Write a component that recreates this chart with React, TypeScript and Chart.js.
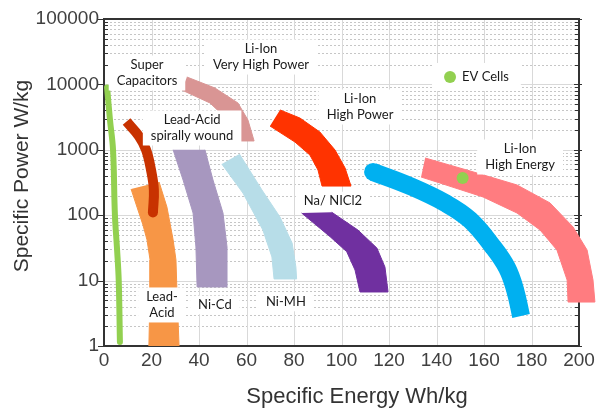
import React, { useEffect, useRef } from "react";
import { Chart, registerables } from "chart.js";

Chart.register(...registerables);

// ---- axes ----
const energyTicks = [0, 20, 40, 60, 80, 100, 120, 140, 160, 180, 200];
const powerTicks = [1, 10, 100, 1000, 10000, 100000];

// ---- series (Specific Energy Wh/kg, Specific Power W/kg) ----
const superCapEnergy = [1.3, 2.5, 3.8, 4.6, 5.5, 6.2, 6.7];
const superCapPower = [9000, 2900, 1000, 100, 30, 10, 1.15];

const spiralEnergy = [9.5, 14.7, 17.7, 19.8, 21, 20.6];
const spiralPower = [2700, 1620, 1000, 490, 243, 110];

const leadAcidEnergy = [11.4, 13.9, 16.4, 18.1, 19.4, 19.4, 18.9, 31.6, 30.7, 30.3, 29.1, 26.5, 23.2];
const leadAcidPower = [251, 133, 71, 42, 20.7, 7.2, 1, 1, 7.2, 20.7, 42, 133, 322];

const niCdEnergy = [29.1, 31.2, 33.3, 37.5, 38.7, 39.2, 51.8, 51.8, 50.1, 45.9, 42.5];
const niCdPower = [1000, 586, 345, 108, 32.7, 8.0, 8.0, 32.7, 108, 345, 1000];

const niMhEnergy = [49.6, 58.5, 66.9, 70.7, 71.6, 81.1, 80.8, 79.2, 74.1, 66.5, 57.0];
const niMhPower = [607, 218, 59.4, 23, 10.6, 10.6, 16.1, 37.6, 93.8, 243, 863];

const veryHighPowerEnergy = [34.9, 46.7, 56.4, 60.6, 63.2, 55.6, 52.2, 44.6, 32.8];
const veryHighPowerPower = [12970, 8810, 5200, 2860, 1365, 1365, 2860, 5200, 8200];

const highPowerEnergy = [74.1, 82.5, 90.9, 97.3, 101.5, 104.0, 91.8, 90.1, 86.7, 80.4, 69.9];
const highPowerPower = [4070, 3060, 1870, 990, 527, 279, 279, 491, 832, 1315, 2310];

const naNiClEnergy = [95.9, 106.9, 114.9, 118.3, 119.6, 107.8, 105.7, 102.2, 95.2, 83.2];
const naNiClPower = [111, 59.4, 31.5, 16.1, 6.7, 6.7, 14.5, 27.7, 46.9, 108];

const liIonEnergy = [113.3, 128.8, 143.6, 154.1, 163.8, 169.7, 173.1, 175.6];
const liIonPower = [458, 279, 154, 84.6, 32.7, 15.6, 7.2, 2.88];

const highEnergyEnergy = [135.2, 154.1, 161.3, 173.9, 187.8, 197.5, 203.4, 205.9, 206.7, 195.4, 195.0, 190.7, 183.6, 173.9, 159.6, 141.5, 133.5];
const highEnergyPower = [750, 475, 397, 290, 154, 66, 29.4, 10.2, 4.7, 4.7, 10.2, 29.4, 59.4, 108, 190, 310, 384];

const evCellEnergy = [151];
const evCellPower = [370];

// ---- annotations ----
const noteTexts = [
  ["Super", "Capacitors"],
  ["Li-Ion", "Very High Power"],
  ["Lead-Acid", "spirally wound"],
  ["Li-Ion", "High Power"],
  ["Li-Ion", "High Energy"],
  ["Na/ NICl2"],
  ["Lead-", "Acid"],
  ["Ni-Cd"],
  ["Ni-MH"],
];
const noteEnergy = [18.1, 66.1, 37.1, 107.8, 175.2, 96.4, 24.4, 46.7, 76.6];
const notePower = [14930, 26200, 2155, 4510, 776, 165, 4.24, 4.24, 4.7];

const legendText = "EV Cells";
const legendEnergy = 145.7;
const legendPower = 12970;

const xTitle = "Specific Energy Wh/kg";
const yTitle = "Specific Power W/kg";

const pts = (xs: number[], ys: number[]) => xs.map((x, i) => ({ x, y: ys[i] }));

const band = (label: string, xs: number[], ys: number[], color: string, extra: any = {}) => ({
  label,
  data: pts(xs, ys),
  showLine: true,
  fill: "shape",
  backgroundColor: color,
  borderColor: color,
  borderWidth: 1,
  pointRadius: 0,
  tension: 0,
  ...extra,
});

const NOTE_FONT = '13px Lato, "Open Sans", sans-serif';
const LINE_H = 16.5;

const decorPlugin = {
  id: "decor",
  beforeDraw(chart: any) {
    const { ctx, chartArea: a } = chart;
    const xs = chart.scales.x;
    const ys = chart.scales.y;
    ctx.save();
    ctx.lineWidth = 1;
    // minor dotted grid
    ctx.strokeStyle = "#c6c6c6";
    ctx.setLineDash([2, 2]);
    for (let d = 1; d < 100000; d *= 10) {
      for (let k = 2; k <= 9; k++) {
        const py = Math.round(ys.getPixelForValue(d * k)) + 0.5;
        ctx.beginPath();
        ctx.moveTo(a.left + 2, py);
        ctx.lineTo(a.right - 1, py);
        ctx.stroke();
      }
    }
    ctx.setLineDash([]);
    // major grid
    ctx.strokeStyle = "#d9d9d9";
    energyTicks.slice(1, -1).forEach((v) => {
      const px = Math.round(xs.getPixelForValue(v)) + 0.5;
      ctx.beginPath();
      ctx.moveTo(px, a.top);
      ctx.lineTo(px, a.bottom);
      ctx.stroke();
    });
    powerTicks.slice(1, -1).forEach((v) => {
      const py = Math.round(ys.getPixelForValue(v)) + 0.5;
      ctx.beginPath();
      ctx.moveTo(a.left, py);
      ctx.lineTo(a.right, py);
      ctx.stroke();
    });
    // tick marks
    ctx.strokeStyle = "#333";
    for (let d = 1; d <= 100000; d *= 10) {
      const py = Math.round(ys.getPixelForValue(d)) + 0.5;
      ctx.beginPath();
      ctx.moveTo(a.left - 6, py);
      ctx.lineTo(a.left, py);
      ctx.moveTo(a.right - 5, py);
      ctx.lineTo(a.right + 3, py);
      ctx.stroke();
      if (d < 100000) {
        for (let k = 2; k <= 9; k++) {
          const pm = Math.round(ys.getPixelForValue(d * k)) + 0.5;
          ctx.beginPath();
          ctx.moveTo(a.left, pm);
          ctx.lineTo(a.left + 4, pm);
          ctx.moveTo(a.right - 4, pm);
          ctx.lineTo(a.right, pm);
          ctx.stroke();
        }
      }
    }
    // top & right border
    ctx.lineWidth = 2;
    ctx.beginPath();
    ctx.moveTo(a.left, a.top);
    ctx.lineTo(a.right, a.top);
    ctx.lineTo(a.right, a.bottom);
    ctx.stroke();
    ctx.restore();
  },
  beforeDatasetDraw(chart: any, args: any) {
    const ds = chart.data.datasets[args.index];
    if (!ds.freeFill) return;
    const { ctx } = chart;
    const el = args.meta.dataset;
    ctx.save();
    ctx.fillStyle = ds.backgroundColor;
    ctx.beginPath();
    el.path(ctx);
    ctx.closePath();
    ctx.fill();
    ctx.restore();
  },
  afterDatasetsDraw(chart: any) {
    const { ctx } = chart;
    const xs = chart.scales.x;
    const ys = chart.scales.y;
    ctx.save();
    ctx.font = NOTE_FONT;
    ctx.textAlign = "center";
    ctx.textBaseline = "middle";
    noteTexts.forEach((lines, i) => {
      const cx = xs.getPixelForValue(noteEnergy[i]);
      const cy = ys.getPixelForValue(notePower[i]);
      const w = Math.max(...lines.map((l) => ctx.measureText(l).width)) + 16;
      const h = lines.length * LINE_H + 2;
      ctx.fillStyle = "#ffffff";
      ctx.fillRect(cx - w / 2, cy - h / 2, w, h);
      ctx.fillStyle = "#1a1a1a";
      lines.forEach((l, j) => {
        ctx.fillText(l, cx, cy - ((lines.length - 1) * LINE_H) / 2 + j * LINE_H);
      });
    });
    // EV Cells legend
    const lx = xs.getPixelForValue(legendEnergy);
    const ly = ys.getPixelForValue(legendPower);
    const tw = ctx.measureText(legendText).width;
    ctx.fillStyle = "#ffffff";
    ctx.fillRect(lx - 18, ly - 14, tw + 42, 28);
    ctx.fillStyle = "#92d050";
    ctx.beginPath();
    ctx.arc(lx, ly, 6, 0, Math.PI * 2);
    ctx.fill();
    ctx.fillStyle = "#1a1a1a";
    ctx.textAlign = "left";
    ctx.fillText(legendText, lx + 12, ly);
    // axis titles
    ctx.fillStyle = "#333";
    ctx.font = '22px "Liberation Sans", Arial, sans-serif';
    ctx.textAlign = "center";
    ctx.fillText(xTitle, 357, 397);
    ctx.font = '21px "Liberation Sans", Arial, sans-serif';
    ctx.translate(22, 176);
    ctx.rotate(-Math.PI / 2);
    ctx.fillText(yTitle, 0, 0);
    ctx.restore();
  },
};

export default function App() {
  const ref = useRef<HTMLCanvasElement>(null);
  useEffect(() => {
    if (!ref.current) return;
    const chart = new Chart(ref.current, {
      type: "scatter",
      data: {
        datasets: [
          {
            label: "EV Cells",
            data: pts(evCellEnergy, evCellPower),
            pointRadius: 6,
            pointBackgroundColor: "#92d050",
            pointBorderWidth: 0,
            showLine: false,
          },
          {
            label: "Super Capacitors",
            data: pts(superCapEnergy, superCapPower),
            showLine: true,
            borderColor: "#92d050",
            borderWidth: 6,
            borderCapStyle: "round",
            pointRadius: 0,
            tension: 0.4,
          },
          {
            label: "Lead-Acid spirally wound",
            data: pts(spiralEnergy, spiralPower),
            showLine: true,
            borderColor: "#c83200",
            borderWidth: 10,
            borderCapStyle: "butt",
            pointRadius: (c: any) => (c.dataIndex === spiralEnergy.length - 1 ? 5 : 0),
            pointBackgroundColor: "#c83200",
            pointBorderWidth: 0,
            tension: 0.4,
          },
          {
            label: "Li-Ion",
            data: pts(liIonEnergy, liIonPower),
            showLine: true,
            borderColor: "#00b0f0",
            borderWidth: 18,
            borderCapStyle: "butt",
            pointRadius: (c: any) => (c.dataIndex === 0 ? 9 : 0),
            pointBackgroundColor: "#00b0f0",
            pointBorderWidth: 0,
            tension: 0.4,
          },
          band("Lead-Acid", leadAcidEnergy, leadAcidPower, "#f79646"),
          band("Ni-Cd", niCdEnergy, niCdPower, "#a797bf"),
          band("Ni-MH", niMhEnergy, niMhPower, "#b7dde8"),
          band("Li-Ion Very High Power", veryHighPowerEnergy, veryHighPowerPower, "#d99594"),
          band("Li-Ion High Power", highPowerEnergy, highPowerPower, "#ff3300"),
          band("Na/ NICl2", naNiClEnergy, naNiClPower, "#7030a0"),
          band("Li-Ion High Energy", highEnergyEnergy, highEnergyPower, "#ff7c80", {
            clip: false,
            fill: false,
            freeFill: true,
          }),
        ] as any,
      },
      options: {
        animation: false,
        responsive: false,
        layout: { padding: { top: 19, right: 23, left: 0, bottom: 0 } },
        plugins: { legend: { display: false }, tooltip: { enabled: false } },
        scales: {
          x: {
            type: "linear",
            min: 0,
            max: 200,
            afterFit: (s: any) => {
              s.height = 62;
            },
            afterBuildTicks: (s: any) => {
              s.ticks = energyTicks.map((v) => ({ value: v }));
            },
            grid: { color: "transparent", drawTicks: false },
            border: { display: true, color: "#333", width: 2 },
            ticks: {
              padding: 3,
              color: "#404040",
              font: { family: '"Liberation Sans", Arial, sans-serif', size: 19 },
            },
          },
          y: {
            type: "logarithmic",
            min: 1,
            max: 100000,
            afterFit: (s: any) => {
              s.width = 104;
            },
            afterBuildTicks: (s: any) => {
              s.ticks = powerTicks.map((v) => ({ value: v }));
            },
            grid: { color: "transparent", drawTicks: false },
            border: { display: true, color: "#333", width: 2 },
            ticks: {
              padding: 5,
              color: "#404040",
              autoSkip: false,
              font: { family: '"Liberation Sans", Arial, sans-serif', size: 19 },
              callback: (v: any) => String(v),
            },
          },
        },
      },
      plugins: [decorPlugin],
    } as any);
    return () => chart.destroy();
  }, []);
  return (
    <div style={{ position: "fixed", left: 0, top: 0, width: 602, height: 408, background: "#fff" }}>
      <canvas ref={ref} width={602} height={408} style={{ display: "block" }} />
    </div>
  );
}
